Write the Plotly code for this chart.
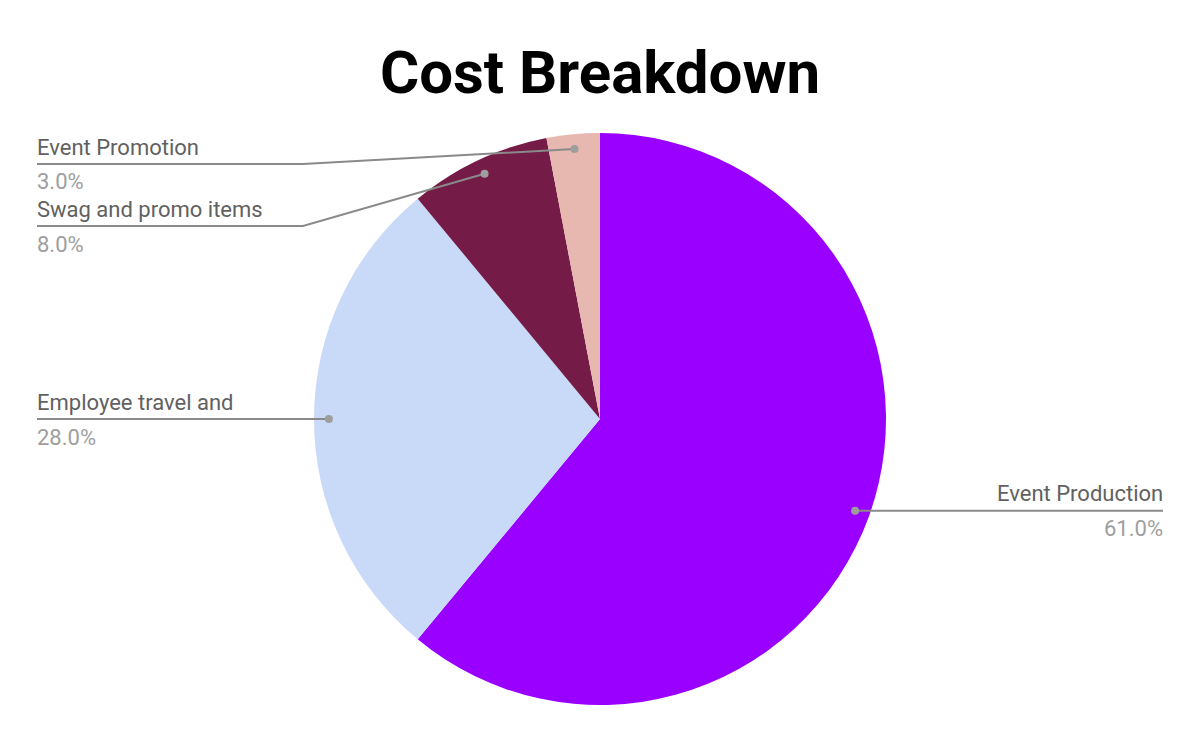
import math
import plotly.graph_objects as go

# ---- data ----
categories = ["Event Production", "Employee travel and", "Swag and promo items", "Event Promotion"]
values = [61.0, 28.0, 8.0, 3.0]
colors = ["#9900FF", "#C9DAF8", "#741B47", "#E6B8AF"]
title_text = "Cost Breakdown"

W, H = 1200, 742
OFF = 8  # page body margin
CX, CY, R = 600, 419, 286  # pie center / radius in pixels

def px(x):
    return (x - OFF) / W

def py(y):
    return 1 - (y - OFF) / H

fig = go.Figure(go.Pie(
    labels=categories, values=values, sort=False, direction="clockwise", rotation=0,
    marker=dict(colors=colors, line=dict(width=0)),
    textinfo="none", hoverinfo="label+percent", showlegend=False,
    domain=dict(x=[px(CX - R), px(CX + R)], y=[py(CY + R), py(CY - R)]),
))

total = sum(values)
shapes = []
annotations = []
LINE_COLOR = "#8a8a8a"
DOT_COLOR = "#9e9e9e"
LABEL_COLOR = "#616161"
PCT_COLOR = "#9e9e9e"
FONT = "Roboto"

left_line_y = {"Event Promotion": 164, "Swag and promo items": 226}
cum = 0.0
for cat, v in zip(categories, values):
    mid = (cum + v / 2) / total * 2 * math.pi
    cum += v
    rr = 0.948 * R
    dx = CX + rr * math.sin(mid)
    dy = CY - rr * math.cos(mid)
    pct = f"{v / total * 100:.1f}%"
    if math.sin(mid) > 0:
        side = "right"
        ly = dy
        x_end = 1163
        pts = [(dx, dy), (x_end, ly)]
    else:
        side = "left"
        ly = left_line_y.get(cat, dy)
        x_end = 37
        if abs(ly - dy) > 1:
            pts = [(dx, dy), (303, ly), (x_end, ly)]
        else:
            pts = [(dx, dy), (x_end, ly)]
    path = "M " + " L ".join(f"{px(a)},{py(b)}" for a, b in pts)
    shapes.append(dict(type="path", path=path, xref="paper", yref="paper",
                       line=dict(color=LINE_COLOR, width=2)))
    shapes.append(dict(type="circle", xref="paper", yref="paper",
                       xsizemode="pixel", ysizemode="pixel",
                       xanchor=px(dx), yanchor=py(dy), x0=-4, x1=4, y0=-4, y1=4,
                       fillcolor=DOT_COLOR, line=dict(width=0)))
    xanchor = "right" if side == "right" else "left"
    xs = 2 if side == "right" else -2
    annotations.append(dict(text=cat, x=px(x_end), y=py(ly - 17), xref="paper", yref="paper",
                            xanchor=xanchor, yanchor="middle", showarrow=False, xshift=xs,
                            font=dict(family=FONT, size=22, color=LABEL_COLOR)))
    annotations.append(dict(text=pct, x=px(x_end), y=py(ly + 18), xref="paper", yref="paper",
                            xanchor=xanchor, yanchor="middle", showarrow=False, xshift=xs,
                            font=dict(family=FONT, size=22, color=PCT_COLOR)))

fig.update_layout(
    width=W, height=H,
    margin=dict(l=0, r=0, t=0, b=0),
    paper_bgcolor="white", plot_bgcolor="white",
    title=dict(text=f"<b>{title_text}</b>", x=px(600), xanchor="center", y=py(72), yanchor="middle",
               font=dict(family=FONT, size=60, color="#000000")),
    shapes=shapes, annotations=annotations,
)

fig.write_html("out.html")
